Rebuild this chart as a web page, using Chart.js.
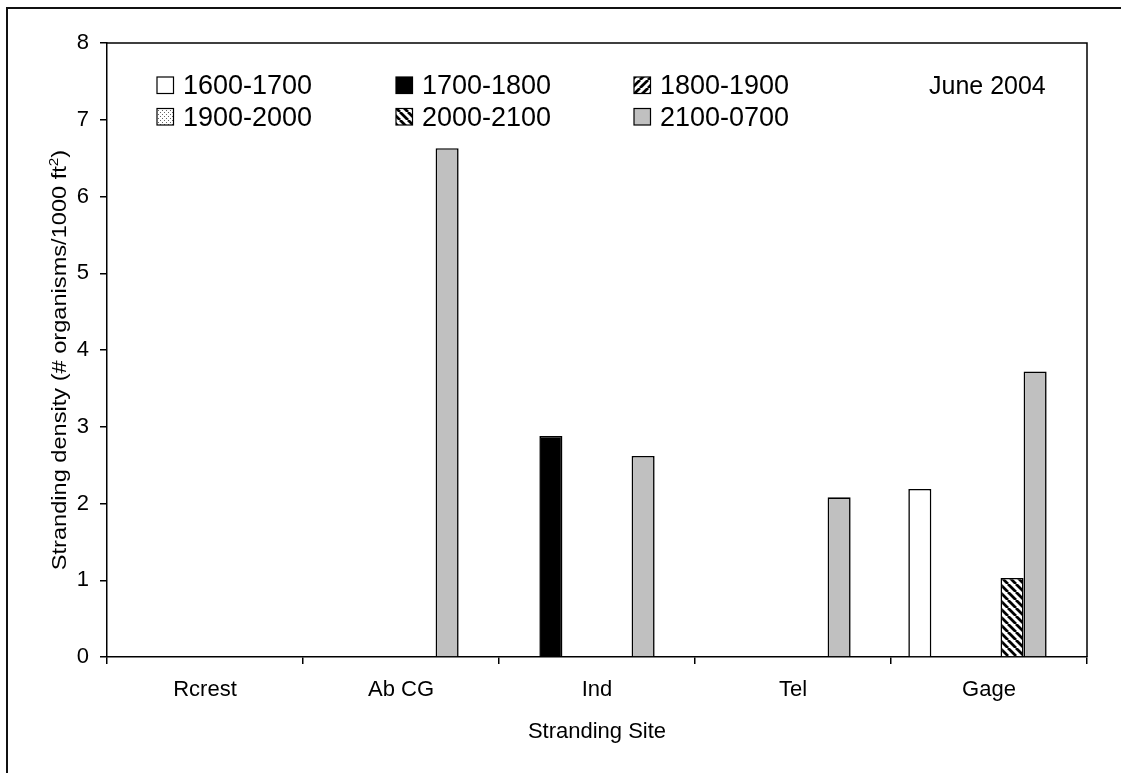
<!DOCTYPE html>
<html>
<head>
<meta charset="utf-8">
<style>
  html, body { margin: 0; padding: 0; background: #fff; }
  #wrap { width: 1121px; height: 773px; position: relative; }
</style>
<script src="https://cdn.jsdelivr.net/npm/chart.js@4.4.1/dist/chart.umd.min.js"></script>
</head>
<body>
<div id="wrap"><canvas id="c" width="1121" height="773"></canvas></div>
<script>
// Stranding sites along the x axis
const sites = ['Rcrest', 'Ab CG', 'Ind', 'Tel', 'Gage'];
// Sampling periods (one bar series each)
const periods = ['1600-1700', '1700-1800', '1800-1900', '1900-2000', '2000-2100', '2100-0700'];

// Stranding density per site, # organisms / 1000 ft^2
const d1600_1700 = [null, null, null, null, 2.19];
const d1700_1800 = [null, null, 2.88, null, null];
const d1800_1900 = [null, null, null, null, null];
const d1900_2000 = [null, null, null, null, null];
const d2000_2100 = [null, null, null, null, 1.03];
const d2100_0700 = [null, 6.63, 2.62, 2.08, 3.72];
// empty seventh series slot kept in the group
const dSpare = [null, null, null, null, null];

const yTickValues = [0, 1, 2, 3, 4, 5, 6, 7, 8];
const xTitle = 'Stranding Site';
const yTitleMain = 'Stranding density (# organisms/1000 ft';
const yTitleSup = '2';
const yTitleEnd = ')';
const noteText = 'June 2004';

const FONT = '"Liberation Sans", Arial, sans-serif';

const canvas = document.getElementById('c');
const ctx = canvas.getContext('2d');

function stripePattern(dir) {
  const t = document.createElement('canvas');
  t.width = 8; t.height = 8;
  const g = t.getContext('2d');
  g.fillStyle = '#fff';
  g.fillRect(0, 0, 8, 8);
  g.strokeStyle = '#000';
  g.lineWidth = 2.8;
  g.beginPath();
  for (const k of [-8, 0, 8]) {
    if (dir === 'down') { g.moveTo(k, 0); g.lineTo(k + 8, 8); }
    else { g.moveTo(k, 8); g.lineTo(k + 8, 0); }
  }
  g.stroke();
  return ctx.createPattern(t, 'repeat');
}

function dotPattern() {
  const t = document.createElement('canvas');
  t.width = 4; t.height = 4;
  const g = t.getContext('2d');
  g.fillStyle = '#fff';
  g.fillRect(0, 0, 4, 4);
  g.fillStyle = '#666';
  g.fillRect(0, 0, 1, 1);
  g.fillRect(2, 2, 1, 1);
  return ctx.createPattern(t, 'repeat');
}

const fills = ['#ffffff', '#000000', stripePattern('up'), dotPattern(), stripePattern('down'), '#c0c0c0'];
const seriesData = [d1600_1700, d1700_1800, d1800_1900, d1900_2000, d2000_2100, d2100_0700];

const datasets = periods.map((p, i) => ({
  label: p,
  data: seriesData[i],
  backgroundColor: fills[i],
  borderColor: '#000',
  borderWidth: 1.6,
  categoryPercentage: 7 / 8.5,
  barPercentage: 1
}));
datasets.push({
  label: '',
  data: dSpare,
  backgroundColor: 'rgba(0,0,0,0)',
  borderWidth: 0,
  categoryPercentage: 7 / 8.5,
  barPercentage: 1
});

// frame lines, plot box, in-plot legend, note and rotated y title
const decorations = {
  id: 'decorations',
  afterDraw(chart) {
    const c = chart.ctx;
    const a = chart.chartArea;
    c.save();

    // outer frame (left and top edges)
    c.strokeStyle = '#111';
    c.lineWidth = 2;
    c.beginPath();
    c.moveTo(7, 773); c.lineTo(7, 8); c.lineTo(1121, 8);
    c.stroke();

    // plot area top and right sides
    c.strokeStyle = '#000';
    c.lineWidth = 1.5;
    c.beginPath();
    c.moveTo(a.left, a.top); c.lineTo(a.right, a.top); c.lineTo(a.right, a.bottom);
    c.stroke();

    // legend: 3 columns x 2 rows
    const colX = [157, 396, 634];
    const rowTop = [77, 108.5];
    const box = 16.5;
    c.font = '27px ' + FONT;
    c.textBaseline = 'alphabetic';
    c.textAlign = 'left';
    periods.forEach((p, i) => {
      const x = colX[i % 3];
      const y = rowTop[Math.floor(i / 3)];
      c.fillStyle = fills[i];
      c.fillRect(x, y, box, box);
      c.strokeStyle = '#000';
      c.lineWidth = 1.2;
      c.strokeRect(x, y, box, box);
      c.fillStyle = '#000';
      c.fillText(p, x + 26, y + box + 0.5);
    });

    // note
    c.font = '25px ' + FONT;
    c.fillStyle = '#000';
    c.fillText(noteText, 929, 94);

    // y axis title, rotated
    const cy = (a.top + a.bottom) / 2 + 10;
    c.translate(65.5, cy);
    c.rotate(-Math.PI / 2);
    c.scale(1.18, 1);
    c.font = '20px ' + FONT;
    const w1 = c.measureText(yTitleMain).width;
    const w3 = c.measureText(yTitleEnd).width;
    c.font = '13px ' + FONT;
    const w2 = c.measureText(yTitleSup).width;
    const x0 = -(w1 + w2 + w3) / 2;
    c.font = '20px ' + FONT;
    c.fillText(yTitleMain, x0, 0);
    c.fillText(yTitleEnd, x0 + w1 + w2, 0);
    c.font = '13px ' + FONT;
    c.fillText(yTitleSup, x0 + w1, -8);

    c.restore();
  }
};

new Chart(canvas, {
  type: 'bar',
  data: { labels: sites, datasets },
  options: {
    responsive: false,
    animation: false,
    devicePixelRatio: 1,
    layout: { padding: { left: 0, top: 43, right: 34, bottom: 0 } },
    plugins: { legend: { display: false }, tooltip: { enabled: false } },
    scales: {
      x: {
        grid: { display: true, drawOnChartArea: false, drawTicks: true, tickLength: 7, color: '#000', lineWidth: 1.5, offset: true },
        border: { display: true, color: '#000', width: 1.5 },
        ticks: { color: '#000', font: { family: FONT, size: 22 }, padding: 13, maxRotation: 0 },
        title: { display: true, text: xTitle, color: '#000', font: { family: FONT, size: 22 }, padding: { top: 0, bottom: 28 } },
        afterFit(s) { s.height = 116; }
      },
      y: {
        min: 0,
        max: 8,
        afterBuildTicks(s) { s.ticks = yTickValues.map(v => ({ value: v })); },
        grid: { display: true, drawOnChartArea: false, drawTicks: true, tickLength: 7, color: '#000', lineWidth: 1.5 },
        border: { display: true, color: '#000', width: 1.5 },
        ticks: { color: '#000', font: { family: FONT, size: 22 }, padding: 11 },
        afterFit(s) { s.width = 107; }
      }
    }
  },
  plugins: [decorations]
});
</script>
</body>
</html>
